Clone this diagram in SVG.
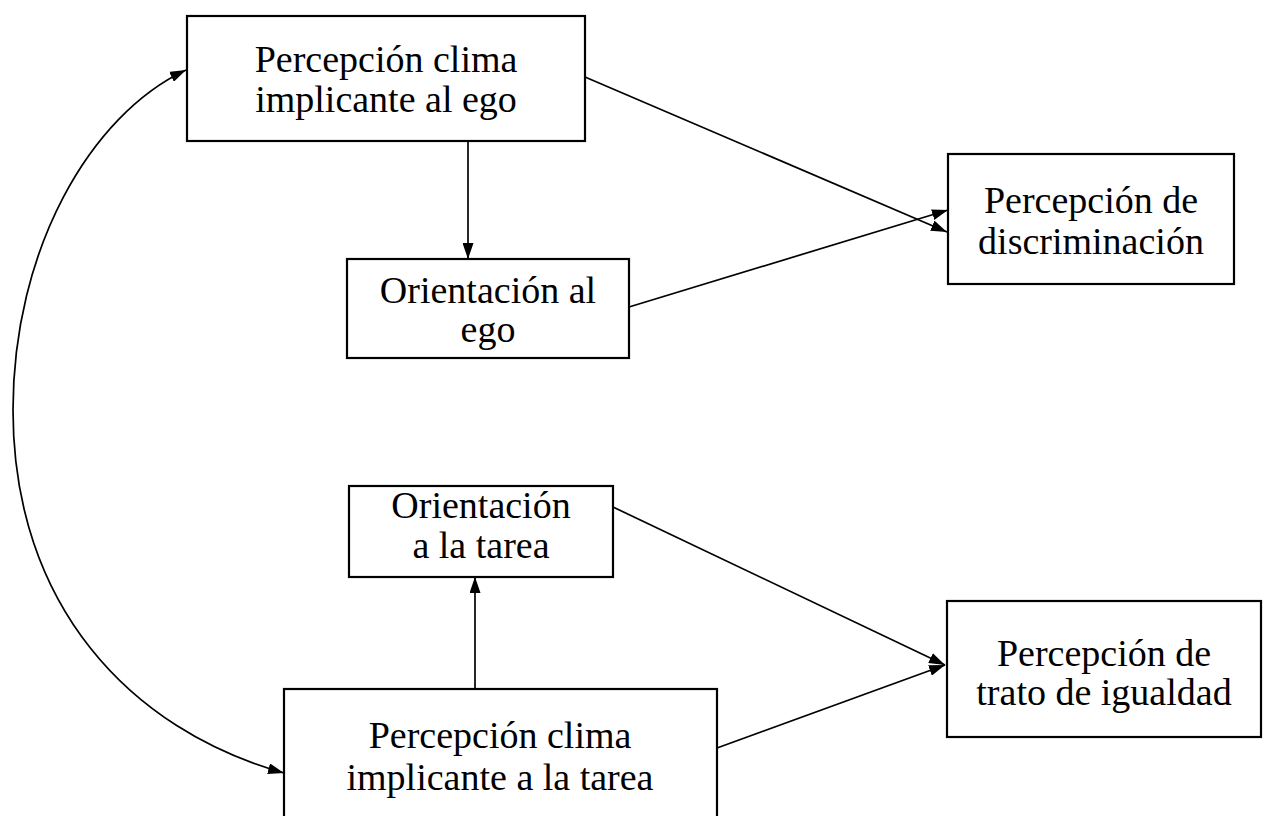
<svg xmlns="http://www.w3.org/2000/svg" width="1263" height="816" viewBox="0 0 1263 816">
<style>
.box{fill:#fff;stroke:#000;stroke-width:2.2}
.lbl{font-family:"Liberation Serif","DejaVu Serif",serif;font-size:38px;fill:#000;text-anchor:middle}
.con{fill:none;stroke:#000;stroke-width:1.7}
</style>
<defs>
<marker id="ah" viewBox="0 0 16 11" refX="16" refY="5.5" markerWidth="16" markerHeight="11" markerUnits="userSpaceOnUse" orient="auto-start-reverse"><path d="M0,0 L16,5.5 L0,11 z" fill="#000"/></marker>
</defs>
<rect width="1263" height="816" fill="#fff"/>
<g id="connectors">
<line class="con" x1="468" y1="141" x2="468" y2="259" marker-end="url(#ah)"/>
<line class="con" x1="585" y1="77" x2="947" y2="232" marker-end="url(#ah)"/>
<line class="con" x1="629" y1="307" x2="948" y2="210" marker-end="url(#ah)"/>
<line class="con" x1="475" y1="689" x2="475" y2="577" marker-end="url(#ah)"/>
<line class="con" x1="613" y1="507" x2="945" y2="665" marker-end="url(#ah)"/>
<line class="con" x1="717" y1="748" x2="945" y2="665" marker-end="url(#ah)"/>
<path class="con" d="M186,70 C90,115 13,250 13,410 C13,605 130,730 284,773" marker-start="url(#ah)" marker-end="url(#ah)"/>
</g>
<g id="n1">
<rect class="box" x="187" y="16" width="398" height="125"/>
<text class="lbl" x="386" y="72">Percepción clima</text>
<text class="lbl" x="386" y="112">implicante al ego</text>
</g>
<g id="n2">
<rect class="box" x="347" y="259" width="282" height="99"/>
<text class="lbl" x="488" y="303">Orientación al</text>
<text class="lbl" x="488" y="342">ego</text>
</g>
<g id="n3">
<rect class="box" x="948" y="154" width="286" height="130"/>
<text class="lbl" x="1091" y="213">Percepción de</text>
<text class="lbl" x="1091" y="254">discriminación</text>
</g>
<g id="n4">
<rect class="box" x="349" y="486" width="264" height="91"/>
<text class="lbl" x="481" y="518">Orientación</text>
<text class="lbl" x="481" y="558">a la tarea</text>
</g>
<g id="n5">
<rect class="box" x="284" y="689" width="433" height="140"/>
<text class="lbl" x="500" y="748">Percepción clima</text>
<text class="lbl" x="500" y="790">implicante a la tarea</text>
</g>
<g id="n6">
<rect class="box" x="947" y="601" width="314" height="136"/>
<text class="lbl" x="1104" y="666">Percepción de</text>
<text class="lbl" x="1104" y="705">trato de igualdad</text>
</g>
</svg>
